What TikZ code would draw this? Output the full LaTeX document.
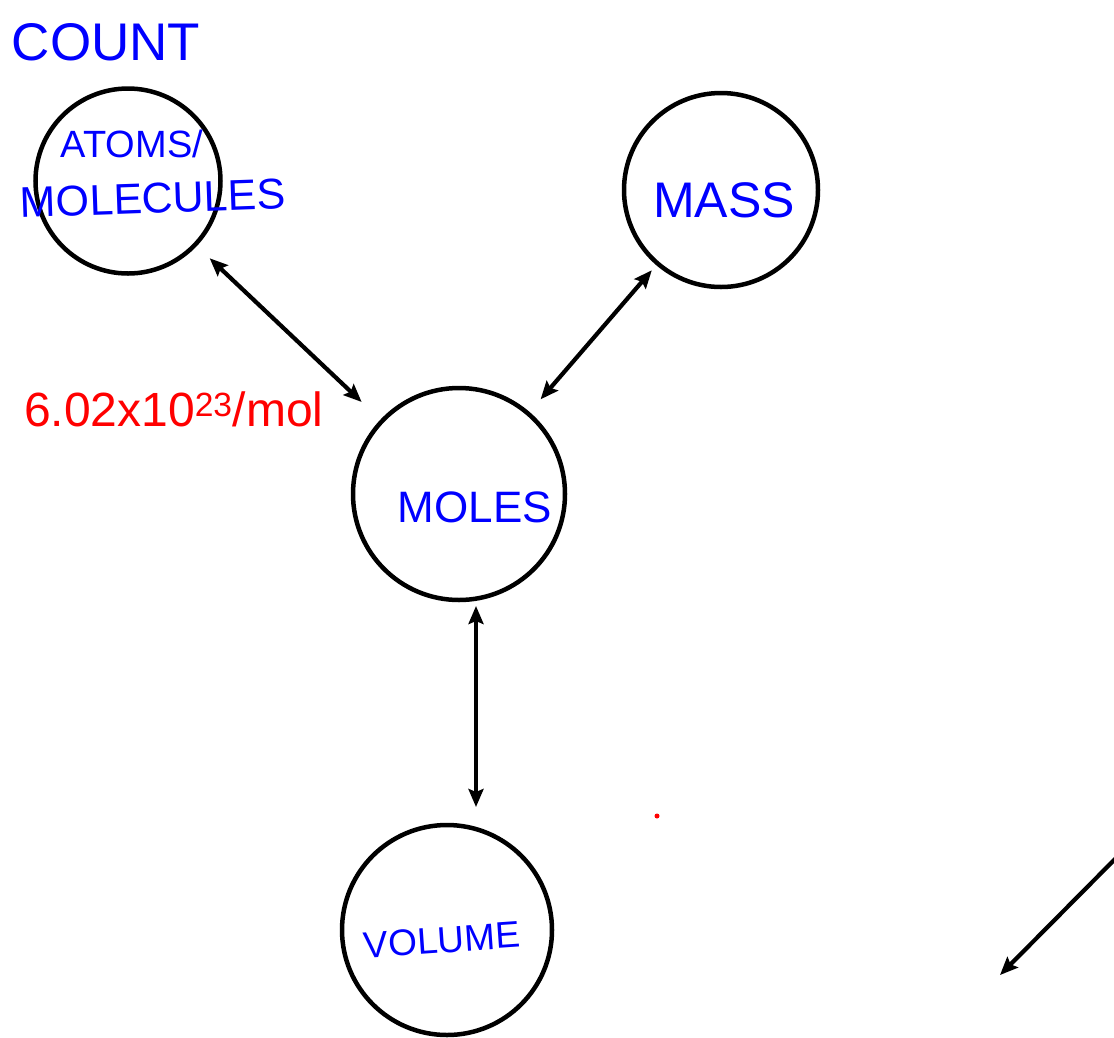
\documentclass[tikz,border=0pt]{standalone}
\usepackage{fontspec}
\setmainfont{Liberation Sans}
\usetikzlibrary{arrows.meta}

\def \globalscale {1.000000}

\tikzset{
  bubble/.style={draw=black,circle,line width=4.5pt,inner sep=0pt,outer sep=0pt},
  hand/.style={text=blue,inner sep=0pt,outer sep=0pt},
  factor/.style={text=red,inner sep=0pt,outer sep=0pt},
  twoway/.style={draw=black,line width=4.2pt,{Stealth[length=18pt,width=15pt,inset=3pt]}-{Stealth[length=18pt,width=15pt,inset=3pt]}},
  oneway/.style={draw=black,line width=4.2pt,-{Stealth[length=18pt,width=15pt,inset=3pt]}}
}

\begin{document}
\begin{tikzpicture}[y=1pt, x=1pt, yscale=-\globalscale, xscale=\globalscale]
\useasboundingbox (0,0) rectangle (1114,1037);


\node[bubble,minimum size=185pt] (atoms) at (128,181) {};



\node[bubble,minimum size=194pt] (mass) at (721,190) {};



\node[bubble,minimum size=212pt] (moles) at (459,494) {};



\node[bubble,minimum size=210pt] (volume) at (447,930) {};



\node[hand,font=\fontsize{53}{53}\selectfont] (count) at (106,42) {COUNT};



\node[hand,font=\fontsize{38}{38}\selectfont] (atomlbl) at (132,144) {ATOMS/};



\node[hand,font=\fontsize{43}{43}\selectfont,rotate=2] (mollbl) at (153,198) {MOLECULES};



\node[hand,font=\fontsize{50}{50}\selectfont] (masslbl) at (724,200) {MASS};



\node[hand,font=\fontsize{44}{44}\selectfont] (moleslbl) at (475,507) {MOLES};



\node[hand,font=\fontsize{37}{37}\selectfont,rotate=4] (vollbl) at (442,940) {VOLUME};



\node[factor,font=\fontsize{48}{48}\selectfont,anchor=base west] (avogadro) at (24,426) {6.02x10\textsuperscript{23}/mol};



\coordinate (vx) at (476,0);



\path[twoway,shorten <=20pt,shorten >=28pt] (atoms) -- (moles);



\path[twoway,shorten <=9pt,shorten >=19pt] (mass) -- (moles);



\path[twoway,shorten <=6pt,shorten >=18pt] (moles.south -| vx) -- (volume.north -| vx);



\coordinate (offpage) at (1122,852);
\coordinate (tip) at (1000,975);
\path[oneway] (offpage) -- (tip);



\fill[red] (657,816) circle (2.5);


\end{tikzpicture}
\end{document}
